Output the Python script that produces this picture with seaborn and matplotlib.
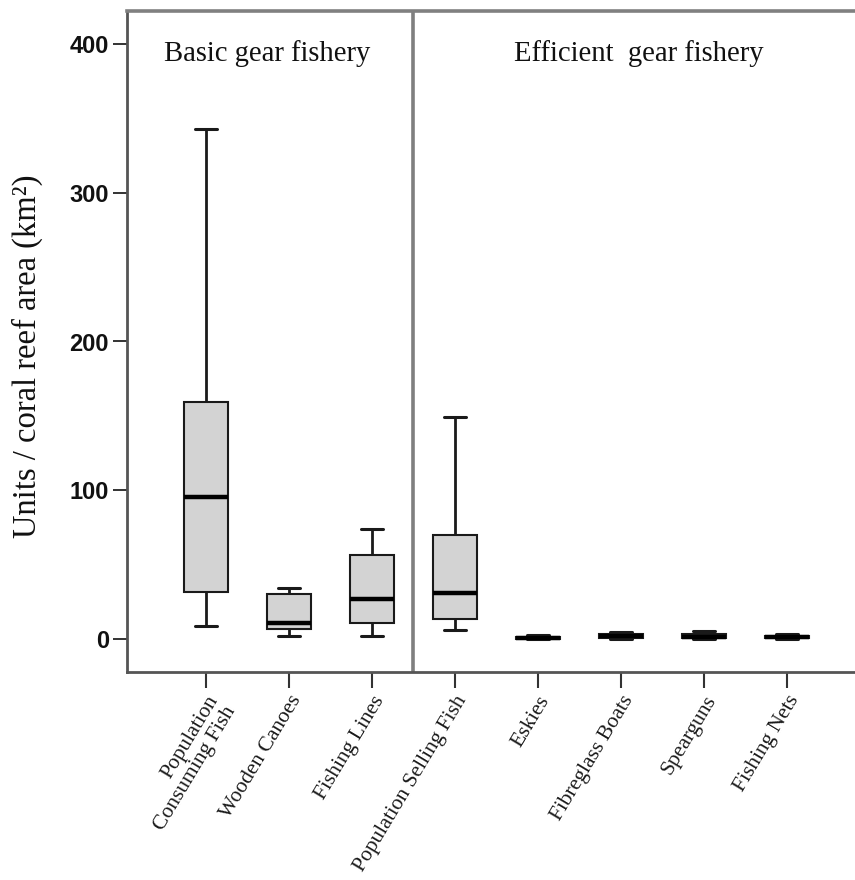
import numpy as np
import pandas as pd
import matplotlib
matplotlib.use("Agg")
import matplotlib.pyplot as plt
import seaborn as sns

# Categories and five-number summaries
categories = ["Population Consuming Fish", "Wooden Canoes", "Fishing Lines",
              "Population Selling Fish", "Eskies", "Fibreglass Boats",
              "Spearguns", "Fishing Nets"]
tick_labels = ["Population\nConsuming Fish", "Wooden Canoes", "Fishing Lines",
               "Population Selling Fish", "Eskies", "Fibreglass Boats",
               "Spearguns", "Fishing Nets"]
whisker_low = [9.0, 2.0, 2.0, 6.0, 0.0, 0.0, 0.0, 0.2]
q1 = [31.4, 6.5, 11.0, 13.2, 0.3, 0.7, 0.5, 0.6]
median = [95.3, 10.5, 26.7, 31.1, 0.8, 1.8, 1.5, 1.3]
q3 = [159.1, 30.3, 56.5, 69.9, 1.5, 3.3, 3.4, 2.3]
whisker_high = [342.7, 34.1, 73.7, 149.5, 2.5, 4.7, 5.2, 3.2]
section_titles = ["Basic gear fishery", "Efficient  gear fishery"]
y_ticks = [0, 100, 200, 300, 400]

rows = []
for c, a, b, m, d, e in zip(categories, whisker_low, q1, median, q3, whisker_high):
    for v in (a, b, m, d, e):
        rows.append({"category": c, "value": v})
df = pd.DataFrame(rows)

sns.set_style("white")
plt.rcParams["font.family"] = ["Liberation Serif", "DejaVu Serif"]

fig = plt.figure(figsize=(8.55, 8.8), dpi=100)
ax = fig.add_axes([127/855, 1 - 672/880, 1 - 127/855, (672 - 11)/880])

sns.boxplot(data=df, x="category", y="value", order=categories, ax=ax,
            width=0.53, whis=(0, 100), color="#d3d3d3", linecolor="#1a1a1a",
            linewidth=1.5, saturation=1,
            medianprops={"linewidth": 3.2, "color": "#000000"},
            whiskerprops={"linewidth": 2.0}, capprops={"linewidth": 2.2})

ax.set_xlim(-0.95, 7.82)
ax.set_ylim(-22.2, 422.2)
ax.axvline(2.5, color="#7f7f7f", linewidth=2.6)

ax.set_yticks(y_ticks)
ax.set_yticklabels([str(t) for t in y_ticks], fontfamily="Liberation Sans",
                   fontsize=17, fontweight="bold", color="#111111")
ax.set_xticks(range(len(categories)))
ax.set_xticklabels(tick_labels, rotation=59, ha="right", rotation_mode="anchor",
                   fontsize=15.5, color="#1a1a1a", linespacing=1.15)
ax.tick_params(axis="y", which="both", left=True, length=10, width=1.4,
               color="#333333", pad=3)
ax.tick_params(axis="x", which="both", bottom=True, length=11.5, width=1.5,
               color="#333333", pad=3)

ax.set_xlabel("")
ax.set_ylabel("Units / coral reef area (km²)", fontsize=23.5, color="#111111")
ax.yaxis.set_label_coords(-0.1154, 0.478)

for s, col, lw in (("left", "#555555", 2.0), ("bottom", "#555555", 2.0),
                   ("top", "#808080", 2.6)):
    ax.spines[s].set_visible(True)
    ax.spines[s].set_color(col)
    ax.spines[s].set_linewidth(lw)
ax.spines["right"].set_visible(False)

ax.text(0.193, 0.936, section_titles[0], transform=ax.transAxes, ha="center",
        va="center", fontsize=20.6, color="#111111")
ax.text(0.703, 0.936, section_titles[1], transform=ax.transAxes, ha="center",
        va="center", fontsize=20.6, color="#111111")

fig.savefig("out.png", dpi=100)
